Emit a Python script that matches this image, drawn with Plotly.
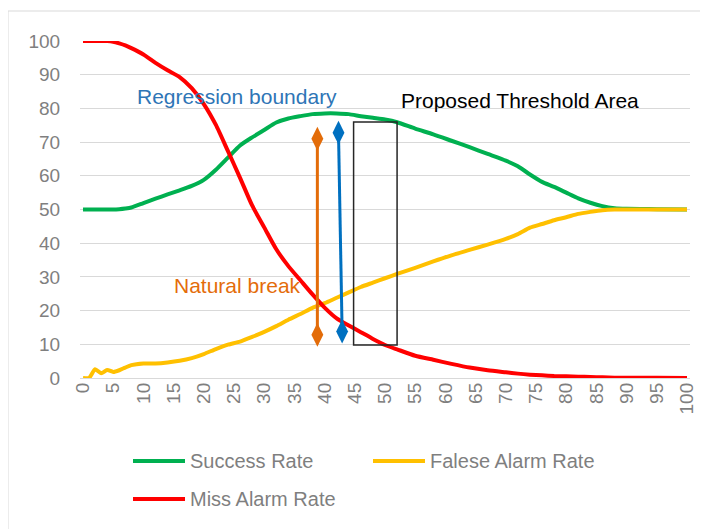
import plotly.graph_objects as go

# ---- data ----
thresholds = [0, 1, 2, 3, 4, 5, 6, 7, 8, 10, 12, 14, 16, 18, 20, 22, 24, 26, 28, 30,
              32, 34, 36, 38, 40, 42, 44, 46, 48, 50, 52, 55, 58, 61, 64, 67, 70, 72,
              74, 76, 78, 80, 82, 84, 86, 88, 90, 95, 100]

success_rate = [50, 50, 50, 50, 50, 50, 50.1, 50.3, 50.6, 51.9, 53.2, 54.5, 55.7, 57.0,
                58.8, 61.8, 65.4, 69.0, 71.4, 73.6, 75.8, 77.0, 77.7, 78.3, 78.5, 78.5,
                78.3, 77.7, 77.2, 76.7, 75.9, 74.0, 72.3, 70.4, 68.5, 66.5, 64.5, 62.8,
                60.4, 58.2, 56.7, 55.0, 53.3, 52.0, 51.0, 50.4, 50.2, 50.1, 50]

false_alarm_rate = [0, 0, 2.6, 1.4, 2.4, 1.8, 2.3, 3.1, 3.8, 4.3, 4.3, 4.6, 5.1, 5.9,
                    7.1, 8.6, 9.9, 10.8, 12.2, 13.7, 15.4, 17.3, 19.0, 20.8, 22.2, 23.8,
                    25.4, 27.0, 28.3, 29.6, 30.9, 32.7, 34.6, 36.4, 38.0, 39.6, 41.3, 42.7,
                    44.6, 45.7, 46.8, 47.7, 48.7, 49.3, 49.8, 50, 50, 50, 50]

miss_alarm_rate = [100, 100, 100, 100, 100, 99.8, 99.3, 98.7, 97.9, 96.0, 93.5, 91.3,
                   89.3, 86.0, 81.3, 75.1, 67.3, 59.4, 51.2, 44.7, 38.2, 33.2, 29.0, 24.8,
                   20.9, 17.7, 15.6, 13.6, 11.6, 9.8, 8.5, 6.6, 5.4, 4.2, 3.1, 2.3, 1.7,
                   1.3, 1.0, 0.8, 0.6, 0.5, 0.4, 0.3, 0.2, 0.1, 0.1, 0.05, 0]

series_names = ["Success Rate", "Falese Alarm Rate", "Miss Alarm Rate"]
series_colors = ["#00B050", "#FFC000", "#FF0000"]

natural_break_x = [38.8, 38.8]
natural_break_y = [12.8, 71.0]
regression_x = [42.9, 42.3]
regression_y = [13.8, 72.8]
threshold_area_x = [44.8, 52.0]
threshold_area_y = [9.8, 76.0]

x_ticks = list(range(0, 101, 5))
y_ticks = list(range(0, 101, 10))

FONT = "Arial, 'Liberation Sans', sans-serif"
GRAY = "#7f7f7f"

# page body has an 8px margin, so the figure is 8px smaller and shifted
OFF = 8
W, H = 708 - OFF, 529 - OFF
# plot-area geometry in (reference) pixels
PL, PR, PT, PB = 80 - OFF, 690 - OFF, 41 - OFF, 378 - OFF


def px_x(px):
    return (px - OFF - PL) / (PR - PL)


def px_y(py):
    return (PB - (py - OFF)) / (PB - PT)


fig = go.Figure()

for name, vals, col in zip(series_names, [success_rate, false_alarm_rate, miss_alarm_rate],
                           series_colors):
    fig.add_trace(go.Scatter(x=thresholds, y=vals, name=name, mode="lines",
                             showlegend=False,
                             line=dict(color=col, width=4, shape="spline", smoothing=0.6)))

# double-headed diamond arrows
fig.add_trace(go.Scatter(x=natural_break_x, y=natural_break_y, mode="lines+markers",
                         showlegend=False, hoverinfo="skip",
                         line=dict(color="#E36C09", width=3),
                         marker=dict(symbol="diamond-tall", size=17, color="#E36C09")))
fig.add_trace(go.Scatter(x=regression_x, y=regression_y, mode="lines+markers",
                         showlegend=False, hoverinfo="skip",
                         line=dict(color="#0070C0", width=3),
                         marker=dict(symbol="diamond-tall", size=17, color="#0070C0")))

fig.add_shape(type="rect", xref="x", yref="y",
              x0=threshold_area_x[0], x1=threshold_area_x[1],
              y0=threshold_area_y[0], y1=threshold_area_y[1],
              line=dict(color="#262626", width=1.5))

# outer chart border
fig.add_shape(type="rect", xref="paper", yref="paper",
              x0=px_x(8), x1=px_x(730), y0=px_y(560), y1=px_y(11),
              line=dict(color="#d9d9d9", width=1))

fig.add_annotation(x=8.6, y=83.4, xref="x", yref="y", text="Regression boundary",
                   showarrow=False, xanchor="left", yanchor="middle",
                   font=dict(family=FONT, size=21, color="#2E75B6"))
fig.add_annotation(x=52.3, y=82.3, xref="x", yref="y", text="Proposed Threshold Area",
                   showarrow=False, xanchor="left", yanchor="middle",
                   font=dict(family=FONT, size=21, color="#000000"))
fig.add_annotation(x=14.8, y=27.5, xref="x", yref="y", text="Natural break",
                   showarrow=False, xanchor="left", yanchor="middle",
                   font=dict(family=FONT, size=21, color="#E46C0A"))

# legend (drawn as swatches + labels below the plot)
legend_pos = [(133, 461), (373, 461), (133, 499)]
for name, col, (lx, ly) in zip(series_names, series_colors, legend_pos):
    fig.add_shape(type="line", xref="paper", yref="paper",
                  x0=px_x(lx), x1=px_x(lx + 52), y0=px_y(ly), y1=px_y(ly),
                  line=dict(color=col, width=4))
    fig.add_annotation(x=px_x(lx + 55), y=px_y(ly), xref="paper", yref="paper",
                       text=name, showarrow=False, xanchor="left", yanchor="middle",
                       font=dict(family=FONT, size=20, color=GRAY))

fig.update_layout(
    width=W, height=H,
    margin=dict(l=PL, r=W - PR, t=PT, b=H - PB, autoexpand=False),
    paper_bgcolor="white", plot_bgcolor="white",
    font=dict(family=FONT, color=GRAY),
    showlegend=False,
    xaxis=dict(range=[-0.5, 100.5], tickvals=x_ticks, ticktext=[str(v) for v in x_ticks],
               tickangle=-90, showgrid=False, zeroline=False, showline=False,
               automargin=False, ticks="", ticklen=6,
               tickfont=dict(family=FONT, size=19, color=GRAY)),
    yaxis=dict(range=[0, 100], tickvals=y_ticks, showgrid=True, gridcolor="#d9d9d9",
               gridwidth=1.3, zeroline=True, zerolinecolor="#d9d9d9", zerolinewidth=1.3,
               showline=False, automargin=False, ticks="outside", ticklen=15,
               tickcolor="rgba(0,0,0,0)",
               tickfont=dict(family=FONT, size=19, color=GRAY)),
)

fig.write_html("out.html")
